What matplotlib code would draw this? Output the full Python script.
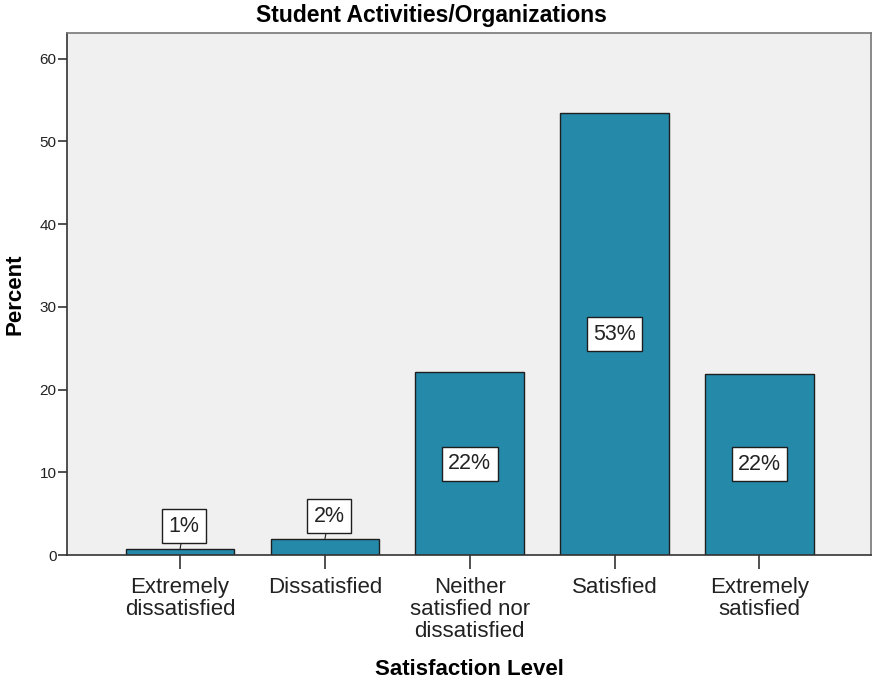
import matplotlib
matplotlib.use("Agg")
import matplotlib.pyplot as plt
import numpy as np

plt.rcParams['font.family'] = ['Liberation Sans', 'DejaVu Sans']

categories = ["Extremely\ndissatisfied", "Dissatisfied", "Neither\nsatisfied nor\ndissatisfied",
              "Satisfied", "Extremely\nsatisfied"]
percents = [0.7, 1.9, 22.1, 53.4, 21.9]
labels = ["1%", "2%", "22%", "53%", "22%"]
yticks = [0, 10, 20, 30, 40, 50, 60]

fig = plt.figure(figsize=(8.74, 6.82), dpi=100)
ax = fig.add_axes([0.0767, 0.1862, 0.9199, 0.7654])
ax.set_facecolor('#F0F0F0')

x = np.arange(len(categories))
ax.bar(x, percents, width=0.75, color='#2589AA', edgecolor='#1E1E1E', linewidth=1.0, zorder=2)

box = dict(boxstyle='square,pad=0.3', facecolor='white', edgecolor='#1E1E1E', linewidth=1.0)
for xi, v, lab in zip(x, percents, labels):
    if v < 5:
        ax.annotate(lab, xy=(xi, v), xytext=(4, 23), textcoords='offset pixels',
                    ha='center', va='center', fontsize=15.5, color='#222222', bbox=box,
                    arrowprops=dict(arrowstyle='-', color='#1E1E1E', lw=0.8, shrinkA=0, shrinkB=0),
                    zorder=3)
    else:
        ax.text(xi, v / 2, lab, ha='center', va='center', fontsize=15.5, color='#222222',
                bbox=box, zorder=3)

ax.set_xlim(-0.78, 4.77)
ax.set_ylim(0, 63.1)
ax.set_yticks(yticks)
ax.set_yticklabels([str(t) for t in yticks], fontsize=11, color='#222222')
ax.set_xticks(x)
ax.set_xticklabels(categories, fontsize=16, color='#222222', linespacing=1.07)
ax.tick_params(axis='x', length=10, width=1.2, color='#333333', pad=6)
ax.tick_params(axis='y', length=6.5, width=1.2, color='#333333', pad=1)

for side in ['left', 'bottom']:
    ax.spines[side].set_color('#333333')
    ax.spines[side].set_linewidth(1.2)
for side in ['top', 'right']:
    ax.spines[side].set_color('#777777')
    ax.spines[side].set_linewidth(1.2)

fig.text(0.494, 0.978, "Student Activities/Organizations", fontsize=16.5, fontweight='bold',
         ha='center', va='center')
ax.set_xlabel("Satisfaction Level", fontsize=16, fontweight='bold', labelpad=12)
ax.set_ylabel("Percent", fontsize=16, fontweight='bold', labelpad=10)

fig.savefig("out.png", dpi=100)
